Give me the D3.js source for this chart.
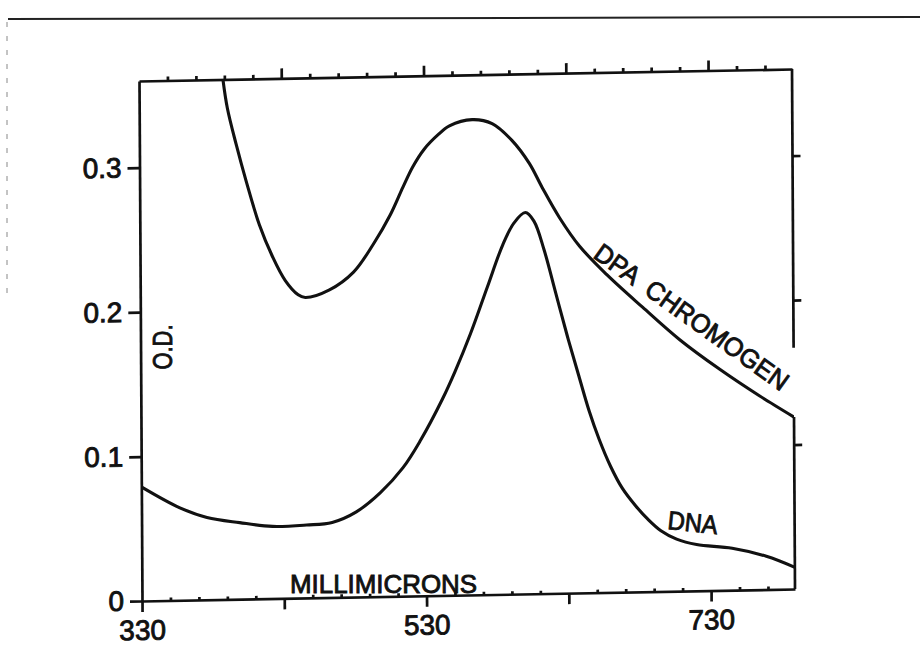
<!DOCTYPE html>
<html>
<head>
<meta charset="utf-8">
<script src="https://cdn.jsdelivr.net/npm/d3@7"></script>
<style>
  html, body { margin: 0; padding: 0; background: #fff; }
  svg { display: block; }
  text { font-family: "Liberation Sans", Arial, sans-serif; fill: #111; }
</style>
</head>
<body>
<svg id="chart" width="920" height="645"></svg>
<script>
// ---- data ----
const dpaWavelength = [389, 392, 398, 405, 414, 423, 432, 441, 446, 463, 480, 494, 506, 515, 522, 530, 540, 548, 564, 578, 592, 604, 613, 625, 639, 658, 683, 709, 737, 765, 789];
const dpaOD         = [0.360, 0.340, 0.315, 0.289, 0.259, 0.237, 0.220, 0.210, 0.208, 0.213, 0.225, 0.244, 0.264, 0.283, 0.297, 0.309, 0.319, 0.325, 0.329, 0.326, 0.314, 0.298, 0.281, 0.260, 0.240, 0.220, 0.197, 0.174, 0.153, 0.134, 0.119];

const dnaWavelength = [330, 357, 376, 399, 422, 446, 464, 481, 498, 514, 526, 542, 551, 562, 574, 585, 593, 601, 607, 614, 622, 630, 638, 645, 652, 660, 668, 677, 686, 695, 706, 720, 745, 769, 789];
const dnaOD         = [0.079, 0.064, 0.057, 0.053, 0.050, 0.0505, 0.052, 0.059, 0.072, 0.089, 0.107, 0.136, 0.155, 0.181, 0.213, 0.242, 0.257, 0.264, 0.258, 0.238, 0.208, 0.178, 0.150, 0.126, 0.106, 0.087, 0.072, 0.060, 0.050, 0.042, 0.036, 0.032, 0.029, 0.023, 0.015];

const xDomain = [330, 789];
const yDomain = [0, 0.36];
const xMajorTicks = [330, 430, 530, 630, 730];
const xLabeledTicks = [330, 530, 730];
const xMinorTicks = [350, 370, 390, 410, 450, 470, 490, 510, 550, 570, 590, 610, 650, 670, 690, 710, 750, 770];
const yTicks = [0, 0.1, 0.2, 0.3];
const yTickLabels = ["0", "0.1", "0.2", "0.3"];
const yRightTicks = [0.1, 0.2, 0.3];
const rightBorderSegments = [[0.36, 0.167], [0.119, 0]];

// ---- layout ----
const svg = d3.select("#chart");
const X0 = 142, X1 = 795, Y0 = 601, Y1 = 81;
const x = d3.scaleLinear().domain(xDomain).range([X0, X1]);
const y = d3.scaleLinear().domain(yDomain).range([Y0, Y1]);
const ink = "#111";
const axisW = 2.7;
const textStroke = 0.9;

// page edge artefacts of the scan
svg.append("line").attr("x1", 8).attr("y1", 19).attr("x2", 920).attr("y2", 17)
  .attr("stroke", "#222").attr("stroke-width", 2);
svg.append("line").attr("x1", 7).attr("y1", 22).attr("x2", 7).attr("y2", 295)
  .attr("stroke", "#888").attr("stroke-width", 1).attr("stroke-dasharray", "5 9");

// slight skew of the scanned sheet
const sa = 0.00576, sb = -0.0184;
const g = svg.append("g")
  .attr("transform", `matrix(1,${sb},${sa},1,${-sa * Y0},${-sb * X0})`);

function styleAxis(sel, fontSize) {
  sel.selectAll("path.domain").attr("stroke", ink).attr("stroke-width", axisW);
  sel.selectAll(".tick line").attr("stroke", ink).attr("stroke-width", axisW);
  sel.selectAll(".tick text").attr("fill", ink)
    .attr("stroke", ink).attr("stroke-width", textStroke)
    .style("font-family", '"Liberation Sans", Arial, sans-serif')
    .style("font-size", fontSize + "px");
  sel.attr("font-family", null).attr("font-size", null);
}

// bottom axis: majors downward with labels
const axBottom = g.append("g").attr("transform", `translate(0,${Y0})`)
  .call(d3.axisBottom(x).tickValues(xMajorTicks).tickSize(11).tickSizeOuter(0).tickPadding(8)
    .tickFormat(d => xLabeledTicks.includes(d) ? String(d) : ""));
styleAxis(axBottom, 28);
const axBottomMinor = g.append("g").attr("transform", `translate(0,${Y0})`)
  .call(d3.axisTop(x).tickValues(xMinorTicks).tickSize(3).tickSizeOuter(0).tickFormat(""));
styleAxis(axBottomMinor, 10);
axBottomMinor.select("path.domain").remove();

// top axis
const axTop = g.append("g").attr("transform", `translate(0,${Y1})`)
  .call(d3.axisTop(x).tickValues(xMajorTicks.filter(d => d !== 330)).tickSize(10).tickSizeOuter(0).tickFormat(""));
styleAxis(axTop, 10);
const axTopMinor = g.append("g").attr("transform", `translate(0,${Y1})`)
  .call(d3.axisTop(x).tickValues(xMinorTicks).tickSize(4).tickSizeOuter(0).tickFormat(""));
styleAxis(axTopMinor, 10);
axTopMinor.select("path.domain").remove();

// left axis
const axLeft = g.append("g").attr("transform", `translate(${X0},0)`)
  .call(d3.axisLeft(y).tickValues(yTicks).tickSize(12).tickSizeOuter(0).tickPadding(6)
    .tickFormat((d, i) => yTickLabels[i]));
styleAxis(axLeft, 28);

// right axis ticks (outward) and broken right border
const axRight = g.append("g").attr("transform", `translate(${X1},0)`)
  .call(d3.axisRight(y).tickValues(yRightTicks).tickSize(8).tickSizeOuter(0).tickFormat(""));
styleAxis(axRight, 10);
axRight.select("path.domain").remove();
g.selectAll("line.rb").data(rightBorderSegments).join("line").attr("class", "rb")
  .attr("x1", X1).attr("x2", X1)
  .attr("y1", d => y(d[0])).attr("y2", d => y(d[1]))
  .attr("stroke", ink).attr("stroke-width", axisW);

// curves
g.append("clipPath").attr("id", "plotclip").append("rect")
  .attr("x", X0).attr("y", Y1).attr("width", X1 - X0).attr("height", Y0 - Y1);

const lineGen = d3.line().x(d => x(d[0])).y(d => y(d[1])).curve(d3.curveCatmullRom.alpha(0.5));
const dpa = dpaWavelength.map((w, i) => [w, dpaOD[i]]);
const dna = dnaWavelength.map((w, i) => [w, dnaOD[i]]);

g.append("path").datum(dpa).attr("d", lineGen).attr("clip-path", "url(#plotclip)")
  .attr("fill", "none").attr("stroke", ink).attr("stroke-width", 3.1).attr("stroke-linejoin", "round");
g.append("path").datum(dna).attr("d", lineGen).attr("clip-path", "url(#plotclip)")
  .attr("fill", "none").attr("stroke", ink).attr("stroke-width", 3.1).attr("stroke-linejoin", "round");

// annotations
function label(sel) {
  return sel.attr("fill", ink).attr("stroke", ink).attr("stroke-width", textStroke)
    .style("white-space", "pre");
}
label(svg.append("text").attr("transform", "translate(172,347) rotate(-90)")
  .attr("text-anchor", "middle").style("font-size", "27px")
  .attr("textLength", 45).attr("lengthAdjust", "spacingAndGlyphs").text("O.D."));
label(svg.append("text").attr("x", 290).attr("y", 593)
  .style("font-size", "26px").attr("textLength", 187).attr("lengthAdjust", "spacingAndGlyphs")
  .text("MILLIMICRONS"));
label(svg.append("text").attr("transform", "translate(667,529) rotate(6)")
  .style("font-size", "26px").attr("textLength", 50).attr("lengthAdjust", "spacingAndGlyphs")
  .text("DNA"));
label(svg.append("text").attr("transform", "translate(592,257) rotate(35.5)")
  .style("font-size", "26px").attr("textLength", 232).attr("lengthAdjust", "spacingAndGlyphs")
  .text("DPA  CHROMOGEN"));
</script>
</body>
</html>
